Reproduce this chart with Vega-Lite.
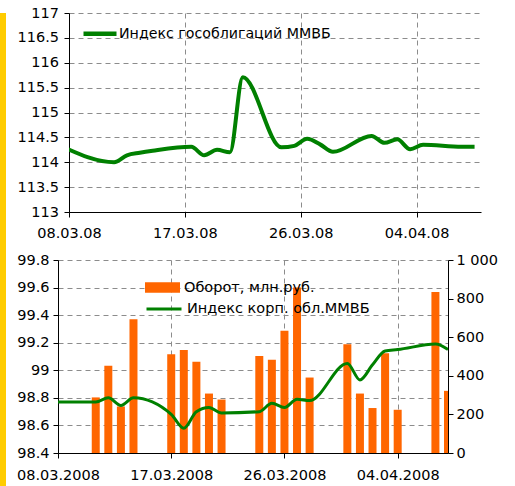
{
  "$schema": "https://vega.github.io/schema/vega-lite/v6.json",
  "padding": 0,
  "background": "white",
  "config": {
    "font": "DejaVu Sans",
    "view": {"stroke": null},
    "title": {"font": "DejaVu Sans", "fontSize": 5, "offset": 0, "color": "#ffffff"},
    "axis": {
      "labelFont": "DejaVu Sans",
      "labelFontSize": 14.5,
      "labelColor": "#000000",
      "domainColor": "#000000",
      "tickColor": "#000000",
      "tickSize": 5,
      "gridColor": "#8c8c8c",
      "gridDash": [5, 4],
      "labelFlush": false,
      "labelOverlap": false
    },
    "legend": {
      "labelFont": "DejaVu Sans",
      "labelFontSize": 14.5,
      "labelColor": "#000000",
      "padding": 0,
      "labelOffset": 4,
      "labelLimit": 600
    }
  },
  "datasets": {
    "gov": [
      {"date": "2008/03/07", "value": 114.31},
      {"date": "2008/03/11", "value": 114.0},
      {"date": "2008/03/12", "value": 114.14},
      {"date": "2008/03/13", "value": 114.19},
      {"date": "2008/03/14", "value": 114.23},
      {"date": "2008/03/17", "value": 114.31},
      {"date": "2008/03/18", "value": 114.14},
      {"date": "2008/03/19", "value": 114.25},
      {"date": "2008/03/20", "value": 114.2},
      {"date": "2008/03/21", "value": 115.71},
      {"date": "2008/03/24", "value": 114.3},
      {"date": "2008/03/25", "value": 114.33},
      {"date": "2008/03/26", "value": 114.47},
      {"date": "2008/03/27", "value": 114.36},
      {"date": "2008/03/28", "value": 114.21},
      {"date": "2008/03/31", "value": 114.53},
      {"date": "2008/04/01", "value": 114.39},
      {"date": "2008/04/02", "value": 114.46},
      {"date": "2008/04/03", "value": 114.26},
      {"date": "2008/04/04", "value": 114.35},
      {"date": "2008/04/07", "value": 114.31},
      {"date": "2008/04/08", "value": 114.31}
    ],
    "corp": [
      {"date": "2008/03/07", "value": 98.77},
      {"date": "2008/03/11", "value": 98.77},
      {"date": "2008/03/12", "value": 98.8},
      {"date": "2008/03/13", "value": 98.745},
      {"date": "2008/03/14", "value": 98.8},
      {"date": "2008/03/17", "value": 98.68},
      {"date": "2008/03/18", "value": 98.58},
      {"date": "2008/03/19", "value": 98.7},
      {"date": "2008/03/20", "value": 98.73},
      {"date": "2008/03/21", "value": 98.69},
      {"date": "2008/03/24", "value": 98.7},
      {"date": "2008/03/25", "value": 98.76},
      {"date": "2008/03/26", "value": 98.73},
      {"date": "2008/03/27", "value": 98.79},
      {"date": "2008/03/28", "value": 98.78},
      {"date": "2008/03/31", "value": 99.05},
      {"date": "2008/04/01", "value": 98.93},
      {"date": "2008/04/02", "value": 99.04},
      {"date": "2008/04/03", "value": 99.14},
      {"date": "2008/04/04", "value": 99.15},
      {"date": "2008/04/07", "value": 99.19},
      {"date": "2008/04/08", "value": 99.15}
    ],
    "turnover": [
      {"date": "2008/03/11", "turnover": 288},
      {"date": "2008/03/12", "turnover": 452},
      {"date": "2008/03/13", "turnover": 241},
      {"date": "2008/03/14", "turnover": 693},
      {"date": "2008/03/17", "turnover": 512},
      {"date": "2008/03/18", "turnover": 534},
      {"date": "2008/03/19", "turnover": 473},
      {"date": "2008/03/20", "turnover": 308},
      {"date": "2008/03/21", "turnover": 277},
      {"date": "2008/03/24", "turnover": 503},
      {"date": "2008/03/25", "turnover": 483},
      {"date": "2008/03/26", "turnover": 633},
      {"date": "2008/03/27", "turnover": 857},
      {"date": "2008/03/28", "turnover": 391},
      {"date": "2008/03/31", "turnover": 564},
      {"date": "2008/04/01", "turnover": 308},
      {"date": "2008/04/02", "turnover": 233},
      {"date": "2008/04/03", "turnover": 517},
      {"date": "2008/04/04", "turnover": 224},
      {"date": "2008/04/07", "turnover": 834},
      {"date": "2008/04/08", "turnover": 322}
    ]
  },
  "hconcat": [
    {
      "width": 6,
      "height": 486,
      "data": {"values": [{}]},
      "mark": {"type": "rect", "color": "#FFCC00"},
      "encoding": {},
      "view": {"fill": "#FFCC00", "stroke": null}
    },
    {
      "title": {"text": " ", "fontSize": 5, "offset": 0, "anchor": "start"},
      "spacing": 12,
      "resolve": {"scale": {"stroke": "independent", "fill": "independent"}, "legend": {"stroke": "independent", "fill": "independent"}},
      "vconcat": [
        {
          "spacing": 0,
          "resolve": {"scale": {"stroke": "independent"}, "legend": {"stroke": "independent"}},
          "hconcat": [
            {
              "width": 1,
              "height": 1,
              "data": {"values": []},
              "mark": {"type": "point", "opacity": 0},
              "encoding": {}
            },
            {
              "width": 412,
              "height": 199,
              "data": {"name": "gov"},
              "mark": {"type": "line", "strokeWidth": 4, "interpolate": "monotone", "clip": true},
              "encoding": {
                "x": {
                  "field": "date",
                  "type": "temporal",
                  "timeUnit": "yearmonthdate",
                  "bandPosition": 0.5,
                  "scale": {"domain": [{"year": 2008, "month": 3, "date": 8}, {"year": 2008, "month": 4, "date": 9}]},
                  "axis": {
                    "title": null,
                    "values": [{"year": 2008, "month": 3, "date": 8}, {"year": 2008, "month": 3, "date": 17}, {"year": 2008, "month": 3, "date": 26}, {"year": 2008, "month": 4, "date": 4}],
                    "format": "%d.%m.%y",
                    "formatType": "time",
                    "grid": true,
                    "labelPadding": 9.5
                  }
                },
                "y": {
                  "field": "value",
                  "type": "quantitative",
                  "scale": {"domain": [113, 117], "zero": false, "nice": false},
                  "axis": {
                    "title": null,
                    "values": [113, 113.5, 114, 114.5, 115, 115.5, 116, 116.5, 117],
                    "format": ".1~f",
                    "grid": true,
                    "labelPadding": 5.5
                  }
                },
                "stroke": {
                  "datum": "Индекс гособлигаций ММВБ",
                  "type": "nominal",
                  "scale": {"range": ["#008000"]},
                  "legend": {
                    "title": null,
                    "orient": "none",
                    "legendX": 12,
                    "legendY": 1.8,
                    "labelOffset": 0,
                    "labelFontSize": 14.2,
                    "symbolType": "stroke",
                    "symbolSize": 1089,
                    "symbolStrokeWidth": 4.5
                  }
                }
              }
            }
          ]
        },
        {
          "spacing": 0,
          "resolve": {"scale": {"stroke": "independent", "fill": "independent"}, "legend": {"stroke": "independent", "fill": "independent"}},
          "hconcat": [
            {
              "width": 1,
              "height": 1,
              "data": {"values": []},
              "mark": {"type": "point", "opacity": 0},
              "encoding": {}
            },
            {
              "width": 390,
              "height": 193,
              "layer": [
                {
                  "data": {"name": "turnover"},
                  "mark": {"type": "bar", "size": 8, "clip": true},
                  "encoding": {
                    "x": {
                      "field": "date",
                      "type": "temporal",
                      "scale": {"domain": [{"year": 2008, "month": 3, "date": 8}, {"year": 2008, "month": 4, "date": 8}], "padding": 0},
                      "axis": {
                        "title": null,
                        "values": [{"year": 2008, "month": 3, "date": 8}, {"year": 2008, "month": 3, "date": 17}, {"year": 2008, "month": 3, "date": 26}, {"year": 2008, "month": 4, "date": 4}],
                        "format": "%d.%m.%Y",
                        "formatType": "time",
                        "grid": true,
                        "labelPadding": 10
                      }
                    },
                    "y": {
                      "field": "turnover",
                      "type": "quantitative",
                      "scale": {"domain": [0, 1000], "nice": false},
                      "axis": {
                        "title": null,
                        "orient": "right",
                        "values": [0, 200, 400, 600, 800, 1000],
                        "labelExpr": "replace(format(datum.value, ','), ',', ' ')",
                        "grid": false,
                        "labelPadding": 3
                      }
                    },
                    "fill": {
                      "datum": "Оборот, млн.руб.",
                      "type": "nominal",
                      "scale": {"range": ["#FF6600"]},
                      "legend": {
                        "title": null,
                        "orient": "none",
                        "legendX": 87,
                        "legendY": 10.1,
                        "symbolType": "M-1,-0.3H1V0.3H-1Z",
                        "symbolSize": 1225,
                        "symbolStrokeWidth": 0
                      }
                    }
                  }
                },
                {
                  "data": {"name": "corp"},
                  "mark": {"type": "line", "strokeWidth": 3, "interpolate": "monotone", "clip": true},
                  "encoding": {
                    "x": {"field": "date", "type": "temporal"},
                    "y": {
                      "field": "value",
                      "type": "quantitative",
                      "scale": {"domain": [98.4, 99.8], "zero": false, "nice": false},
                      "axis": {
                        "title": null,
                        "orient": "left",
                        "values": [98.4, 98.6, 98.8, 99, 99.2, 99.4, 99.6, 99.8],
                        "format": ".1~f",
                        "grid": true,
                        "labelPadding": 4
                      }
                    },
                    "stroke": {
                      "datum": "Индекс корп. обл.ММВБ",
                      "type": "nominal",
                      "scale": {"range": ["#008000"]},
                      "legend": {
                        "title": null,
                        "orient": "none",
                        "legendX": 87,
                        "legendY": 30.1,
                        "symbolType": "stroke",
                        "symbolSize": 1225,
                        "symbolStrokeWidth": 3
                      }
                    }
                  }
                }
              ],
              "resolve": {"scale": {"y": "independent", "fill": "independent", "stroke": "independent"}}
            }
          ]
        }
      ]
    }
  ],
  "spacing": 9
}
